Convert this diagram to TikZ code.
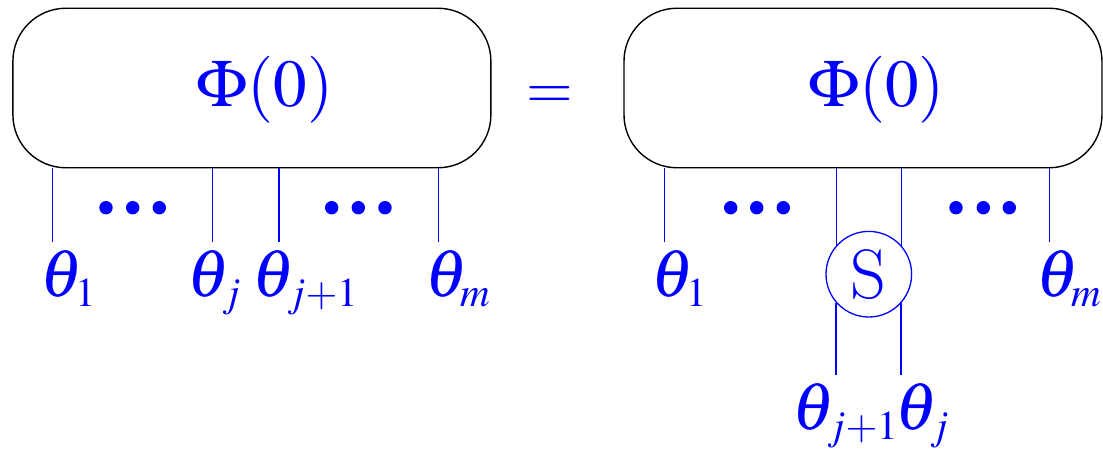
\documentclass[tikz,border=0pt]{standalone}
\usepackage{mathptmx}
\DeclareMathSizes{67}{67}{41}{33}
\DeclareMathSizes{60}{60}{40}{30}
\begin{document}
\begin{tikzpicture}[x=1pt,y=-1pt,
  box/.style={draw=black, line width=1.4pt, rounded corners=53pt, minimum width=478pt, minimum height=159.5pt, inner sep=0pt},
  leg/.style={draw=blue, line width=1.4pt},
  lab/.style={text=blue, inner sep=0pt, anchor=base west, font=\fontsize{67}{80}\selectfont},
  smat/.style={circle, draw=blue, line width=1.3pt, minimum size=85.6pt, inner sep=0pt, text=blue, font=\fontsize{70}{80}\selectfont}]
\useasboundingbox (0,0) rectangle (1103,449);
% left side
\node[box] (A) at (251.9,88) {};
\node[lab, anchor=base] (phiA) at (265,106.7) {$\Phi(0)$};
\node[lab, anchor=center, font=\fontsize{60}{70}\selectfont] (eq) at (550,98) {$=$};
\coordinate (a1) at (52.7,241.7);
\coordinate (a2) at (212.3,241.7);
\coordinate (a3) at (279,241.7);
\coordinate (a4) at (438.3,241.7);
\foreach \c in {a1,a2,a3,a4} \draw[leg] (A.south -| \c) -- (\c);
\foreach \x in {106,132.7,159.3,331.7,358.3,385} \fill[blue] (\x,207.7) circle[radius=6.7];
\node[lab] (l1) at (40,296) {$\theta_1$};
\node[lab] (l2) at (187,296) {$\theta_j$};
\node[lab] (l3) at (252,296) {$\theta_{j+1}$};
\node[lab] (l4) at (425,296) {$\theta_m$};
% right side
\node[box] (B) at (863,88) {};
\node[lab, anchor=base] (phiB) at (876.5,106.7) {$\Phi(0)$};
\node[smat] (S) at (868.8,274.2) {S};
\coordinate (r1) at (664.3,241.7);
\coordinate (r4) at (1049.3,241.7);
\coordinate (bot) at (868.8,375);
\draw[leg] (B.south -| r1) -- (r1);
\draw[leg] (B.south -| r4) -- (r4);
\draw[leg] (S.138.4 |- B.south) -- (S.138.4);
\draw[leg] (S.41.6 |- B.south) -- (S.41.6);
\draw[leg] (S.221.6) -- (S.221.6 |- bot);
\draw[leg] (S.318.4) -- (S.318.4 |- bot);
\foreach \x in {730.7,756.7,783.3,956,983.3,1009.3} \fill[blue] (\x,207.7) circle[radius=6.7];
\node[lab] (m1) at (651.7,296) {$\theta_1$};
\node[lab] (m4) at (1036.7,296) {$\theta_m$};
\node[lab] (m2) at (792,429) {$\theta_{j+1}$};
\node[lab] (m3) at (895,429) {$\theta_j$};
\end{tikzpicture}
\end{document}
